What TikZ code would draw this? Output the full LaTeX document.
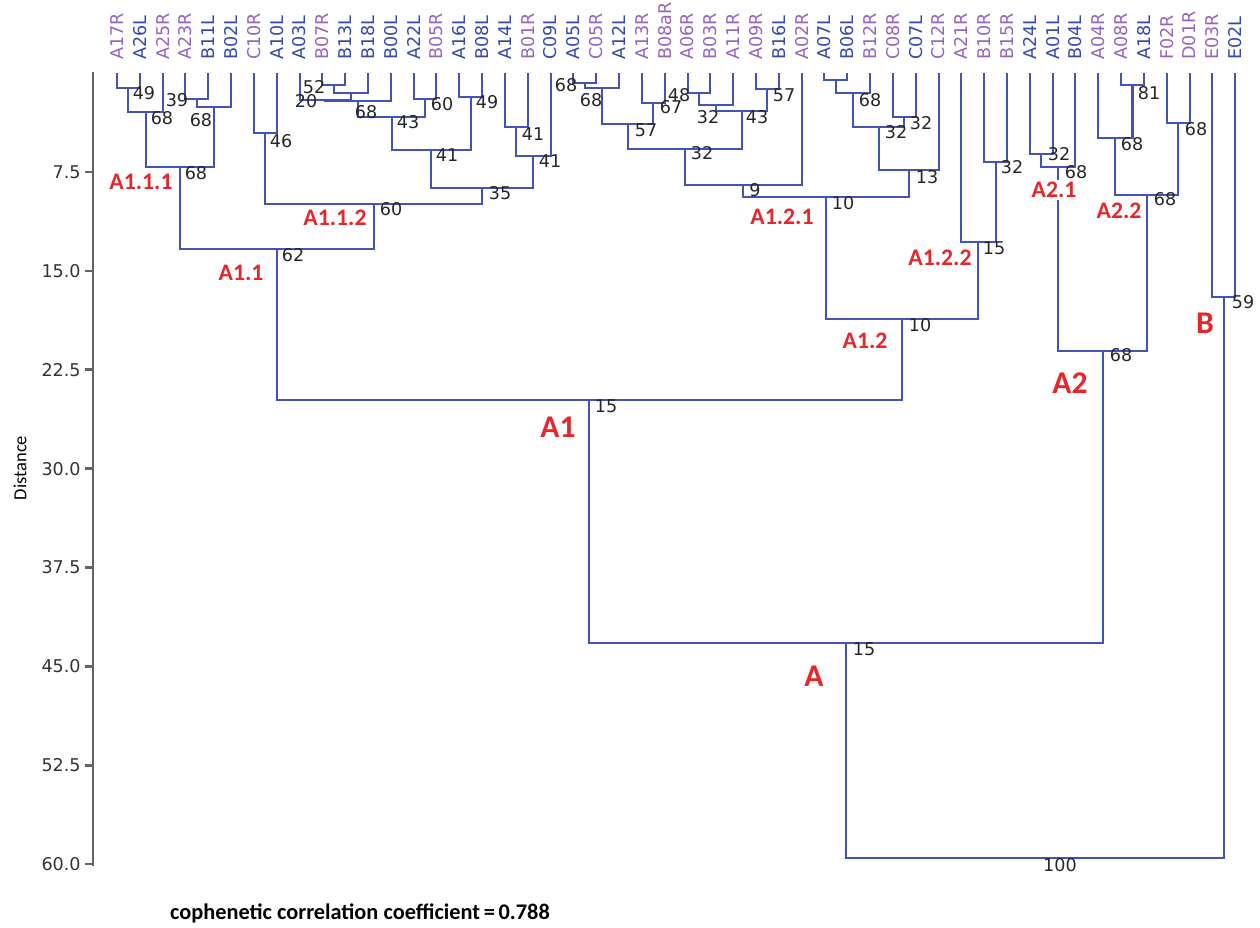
\documentclass[tikz,border=0pt]{standalone}
\usepackage{fontspec}
\setmainfont{DejaVu Sans}
\newfontfamily\carl{Carlito}
\definecolor{treeblue}{RGB}{66,84,184}
\definecolor{lblue}{RGB}{52,72,175}
\definecolor{lpurple}{RGB}{150,100,190}
\definecolor{clred}{RGB}{232,38,42}
\definecolor{axgray}{RGB}{100,100,100}
\begin{document}
\begin{tikzpicture}[x=0.02cm,y=-0.02cm,
  br/.style={treeblue,line width=1.15pt},
  ax/.style={axgray,line width=1.4pt},
  lf/.style={rotate=90,anchor=west,inner sep=0pt,font=\fontsize{10}{10}\selectfont},
  tk/.style={anchor=east,inner sep=0pt,text=black!80,font=\fontsize{10}{11}\selectfont},
  bs/.style={inner sep=0pt,text=black!85,font=\fontsize{10}{11}\selectfont},
  cl/.style={text=clred,fill=white,inner sep=1pt,font=\carl\bfseries\fontsize{13.5}{14}\selectfont},
  clbig/.style={cl,font=\carl\bfseries\fontsize{18}{19}\selectfont}]
  \useasboundingbox (0,0) rectangle (1260,927);
  % distance axis
  \draw[ax] (93,72) -- (93,866);
  \foreach \d/\s [count=\k] in {7.5/7.5,15/15.0,22.5/22.5,30/30.0,37.5/37.5,45/45.0,52.5/52.5,60/60.0}{
    \pgfmathsetmacro\ty{73+13.187*\d}
    \draw[ax] (85,\ty) -- (93,\ty);
    \node[tk] (tk\k) at (81,\ty) {\s};
  }
  \node[rotate=90,font=\carl\fontsize{10.5}{12}\selectfont] (dist) at (20,468) {Distance};
  % leaves
  \foreach \n/\col [count=\i] in {A17R/lpurple,A26L/lblue,A25R/lpurple,A23R/lpurple,B11L/lblue,
      B02L/lblue,C10R/lpurple,A10L/lblue,A03L/lblue,B07R/lpurple,B13L/lblue,B18L/lblue,B00L/lblue,
      A22L/lblue,B05R/lpurple,A16L/lblue,B08L/lblue,A14L/lblue,B01R/lpurple,C09L/lblue,A05L/lblue,
      C05R/lpurple,A12L/lblue,A13R/lpurple,B08aR/lpurple,A06R/lpurple,B03R/lpurple,A11R/lpurple,
      A09R/lpurple,B16L/lblue,A02R/lpurple,A07L/lblue,B06L/lblue,B12R/lpurple,C08R/lpurple,
      C07L/lblue,C12R/lpurple,A21R/lpurple,B10R/lpurple,B15R/lpurple,A24L/lblue,A01L/lblue,
      B04L/lblue,A04R/lpurple,A08R/lpurple,A18L/lblue,F02R/lpurple,D01R/lpurple,E03R/lpurple,E02L/lblue}{
    \pgfmathsetmacro\lx{117+22.82*(\i-1)}
    \coordinate (\n) at (\lx,73);
    \node[lf,text=\col] (t\n) at (\lx,60) {\n};
  }
  % merges: name/left/right/height
  \foreach \nm/\ca/\cb/\hy in {m1/A17R/A26L/88,m2/m1/A25R/112,m3/A23R/B11L/99,m4/m3/B02L/107,
      A111/m2/m4/167,m6/C10R/A10L/133,m7/B07R/B13L/85,m8/m7/B18L/93,m9/A03L/m8/100,m10/m9/B00L/101,
      m12/A22L/B05R/99,m11/m10/m12/117,m13/A16L/B08L/97,m14/m11/m13/150,m15/A14L/B01R/127,
      m16/m15/C09L/156,m17/m14/m16/188,A112/m6/m17/204,A11/A111/A112/249,
      m20/A05L/C05R/83,m21/m20/A12L/88,m22/A13R/B08aR/103,m23/A06R/B03R/93,m24/m23/A11R/105,
      m25/A09R/B16L/89,m26/m24/m25/111,m27/m21/m22/124,m28/m27/m26/149,m29/m28/A02R/185,
      m30/A07L/B06L/80,m31/m30/B12R/93,m32/C08R/C07L/117,m33/m31/m32/127,m34/m33/C12R/170,
      A121/m29/m34/197,m36/B10R/B15R/162,A122/A21R/m36/242,A12/A121/A122/319,A1/A11/A12/400,
      m40/A24L/A01L/154,A21/m40/B04L/167,m42/A08R/A18L/85,m43/A04R/m42/138,m44/F02R/D01R/123,
      A22/m43/m44/195,A2/A21/A22/351,A/A1/A2/643,B/E03R/E02L/297,root/A/B/858}{
    \path (\ca) -- (\cb) coordinate[pos=.5] (mid);
    \coordinate (\nm) at (mid |- 0,\hy);
    \draw[br] (\ca) |- (\nm) -| (\cb);
  }
  % support values
  \foreach \nm/\t/\lx/\ly in {m1/49/144/93,m2/68/162/118,m3/39/177/100,m4/68/201/120,A111/68/196/173,
      m6/46/281/141,m7/52/314/87,m9/20/306/101,m10/68/366/112,m12/60/442/104,m11/43/408/122,
      m13/49/487/102,m14/41/447/155,m15/41/533/134,m16/41/550/161,m17/35/500/193,A112/60/391/209,
      A11/62/293/255,m20/68/566/85,m21/68/591/100,m22/67/671/107,m23/48/679/95,m24/32/708/117,
      m25/57/784/95,m26/43/757/117,m27/57/646/130,m28/32/702/153,m29/9/755/190,m31/68/870/100,
      m32/32/921/123,m33/32/896/132,m34/13/927/177,A121/10/843/203,m36/32/1012/167,A122/15/994/248,
      A12/10/920/325,A1/15/606/406,m40/32/1059/154,A21/68/1076/172,m42/81/1149/93,m43/68/1132/144,
      m44/68/1196/129,A22/68/1165/199,A2/68/1121/355,A/15/864/649,B/59/1243/302,root/100/1060/865}{
    \node[bs] (b\nm) at (\lx,\ly) {\t};
  }
  % cluster names
  \node[cl] (tA111) at (141,182) {A1.1.1};
  \node[cl] (tA112) at (335,218) {A1.1.2};
  \node[cl] (tA11) at (241,273) {A1.1};
  \node[cl] (tA121) at (782,217) {A1.2.1};
  \node[cl] (tA122) at (940,258) {A1.2.2};
  \node[cl] (tA12) at (865,341) {A1.2};
  \node[cl] (tA21) at (1054,190) {A2.1};
  \node[cl] (tA22) at (1119,211) {A2.2};
  \node[clbig] (tA1) at (558,427) {A1};
  \node[clbig] (tA2) at (1070,383) {A2};
  \node[clbig] (tA) at (814,676) {A};
  \node[clbig] (tB) at (1205,323) {B};
  \node[anchor=west,font=\carl\bfseries\fontsize{12.7}{14}\selectfont] (cap) at (164,913)
    {cophenetic correlation coefficient\,=\,0.788};
\end{tikzpicture}
\end{document}
